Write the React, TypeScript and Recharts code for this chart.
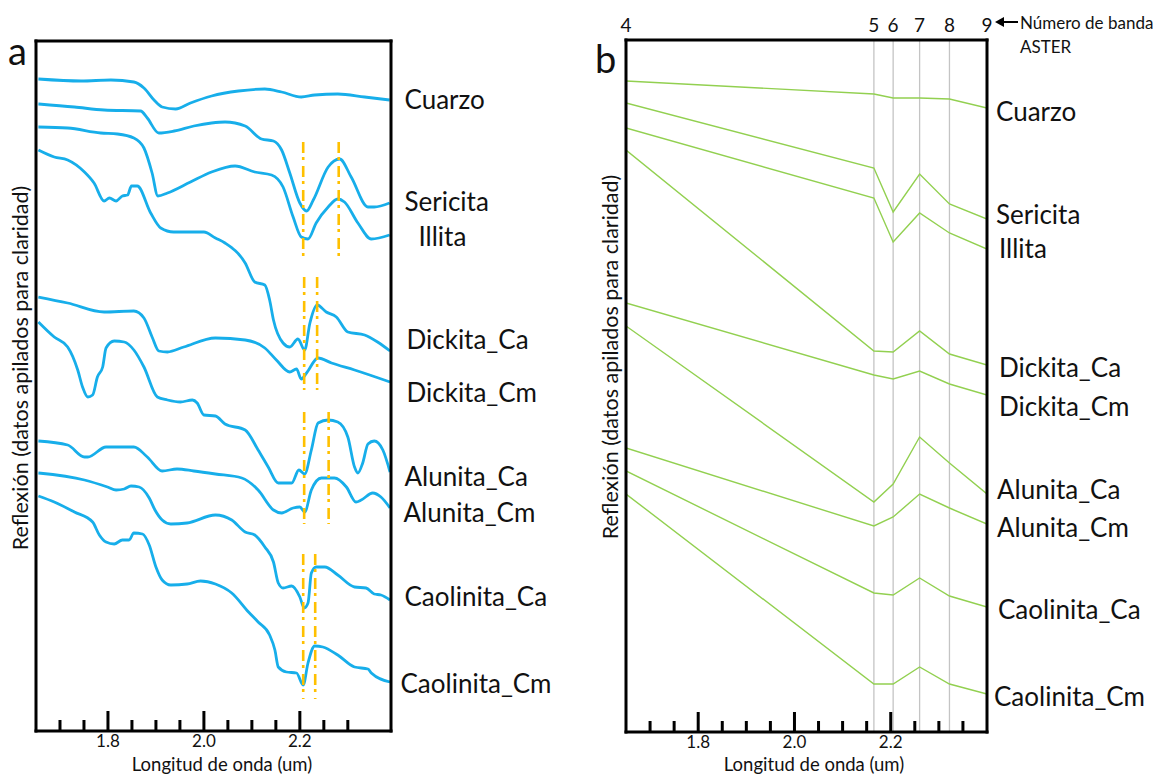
import React from 'react';
import { LineChart, Line, XAxis, YAxis, ReferenceLine } from 'recharts';

const FONT = "Lato, 'Open Sans', sans-serif";
const INK = '#111111';
const BLUE = '#17AEEA';
const GREEN = '#92D050';
const GOLD = '#FFC000';
const BAND_GREY = '#C4C4C4';

// ---------- Panel a: laboratory spectra, [wavelength (um), stacked reflectance] ----------
const cuarzoA: [number, number][] = [[1.655,65.2],[1.744,65.0],[1.806,65.1],[1.854,64.9],[1.875,64.3],[1.896,63.1],[1.913,62.4],[1.941,62.2],[1.972,62.8],[2.016,63.5],[2.072,64.0],[2.127,64.2],[2.162,63.9],[2.203,63.4],[2.231,63.6],[2.279,63.7],[2.335,63.4],[2.387,63.1]];
const sericitaA: [number, number][] = [[1.655,62.7],[1.730,62.4],[1.792,62.1],[1.868,62.0],[1.882,61.3],[1.906,59.8],[1.938,60.0],[1.979,60.5],[2.016,60.8],[2.044,60.9],[2.086,60.5],[2.120,59.2],[2.145,59.0],[2.162,58.1],[2.179,55.8],[2.200,52.8],[2.214,52.0],[2.228,53.1],[2.259,56.4],[2.283,57.2],[2.307,55.4],[2.342,52.4],[2.355,52.4],[2.387,52.8]];
const illitaA: [number, number][] = [[1.655,60.4],[1.716,60.3],[1.785,59.8],[1.820,59.7],[1.854,59.3],[1.875,58.3],[1.892,55.8],[1.904,53.5],[1.924,53.8],[1.972,54.9],[2.016,55.9],[2.065,56.5],[2.106,55.9],[2.141,55.6],[2.165,54.4],[2.186,51.4],[2.203,49.4],[2.217,49.2],[2.234,50.8],[2.259,52.4],[2.279,53.2],[2.293,52.9],[2.321,50.8],[2.349,49.2],[2.387,49.6]];
const dickitaCaA: [number, number][] = [[1.655,58.1],[1.688,57.4],[1.716,57.1],[1.751,55.9],[1.771,54.8],[1.792,53.0],[1.803,53.3],[1.817,53.0],[1.830,53.5],[1.841,53.6],[1.849,54.5],[1.861,54.5],[1.889,51.8],[1.910,50.3],[1.937,49.9],[2.000,49.9],[2.024,49.3],[2.044,48.8],[2.086,46.8],[2.106,44.9],[2.127,44.6],[2.137,43.1],[2.145,41.1],[2.165,38.8],[2.179,38.4],[2.196,39.2],[2.210,38.1],[2.221,40.8],[2.236,42.6],[2.255,41.9],[2.276,41.4],[2.300,39.9],[2.335,39.6],[2.362,38.9],[2.388,38.0]];
const dickitaCmA: [number, number][] = [[1.655,43.4],[1.716,42.8],[1.792,41.9],[1.854,42.0],[1.875,41.3],[1.892,39.4],[1.906,38.0],[1.924,37.9],[1.958,38.4],[2.024,39.3],[2.086,39.1],[2.127,38.3],[2.151,37.1],[2.179,35.9],[2.193,36.2],[2.203,35.2],[2.214,35.8],[2.238,37.3],[2.266,36.8],[2.314,36.1],[2.388,34.9]];
const alunitaCaA: [number, number][] = [[1.655,40.9],[1.688,39.4],[1.716,38.4],[1.737,36.1],[1.747,34.4],[1.758,33.4],[1.768,33.6],[1.778,35.4],[1.789,36.4],[1.796,38.3],[1.813,39.0],[1.834,38.9],[1.854,38.1],[1.875,36.4],[1.903,33.4],[1.924,33.1],[1.951,32.9],[1.976,33.1],[1.986,32.8],[2.000,31.6],[2.024,31.5],[2.044,30.7],[2.086,30.1],[2.113,28.1],[2.134,26.4],[2.155,24.8],[2.183,24.8],[2.198,26.1],[2.210,25.7],[2.224,28.1],[2.238,30.8],[2.259,31.1],[2.279,30.9],[2.300,29.4],[2.314,26.4],[2.321,25.8],[2.331,26.8],[2.342,28.7],[2.355,29.0],[2.373,28.1],[2.388,25.9]];
const alunitaCmA: [number, number][] = [[1.655,29.0],[1.716,28.6],[1.751,27.4],[1.758,27.4],[1.796,28.4],[1.854,28.4],[1.882,27.4],[1.913,26.0],[1.944,26.2],[1.979,26.0],[2.024,25.7],[2.079,25.3],[2.113,24.1],[2.145,22.1],[2.162,21.8],[2.186,22.3],[2.200,22.4],[2.210,21.9],[2.224,24.1],[2.245,25.3],[2.272,25.3],[2.297,24.4],[2.317,22.9],[2.328,23.1],[2.352,23.8],[2.369,23.4],[2.388,22.3]];
const caolinitaCaA: [number, number][] = [[1.655,25.8],[1.751,25.1],[1.799,24.4],[1.817,24.1],[1.834,24.2],[1.848,24.5],[1.865,24.4],[1.886,23.3],[1.898,22.1],[1.913,21.1],[1.931,20.7],[1.965,20.8],[2.024,21.6],[2.058,21.1],[2.086,19.9],[2.106,19.6],[2.127,18.4],[2.145,16.9],[2.155,14.8],[2.165,14.3],[2.183,14.5],[2.200,13.4],[2.209,12.3],[2.217,12.8],[2.224,15.8],[2.234,16.4],[2.252,16.4],[2.279,15.6],[2.314,14.4],[2.338,14.3],[2.355,13.7],[2.369,13.6],[2.388,13.1]];
const caolinitaCmA: [number, number][] = [[1.655,23.5],[1.688,22.9],[1.730,21.9],[1.768,20.9],[1.782,19.6],[1.796,18.9],[1.813,18.7],[1.830,19.1],[1.844,19.1],[1.854,19.8],[1.872,19.7],[1.886,18.6],[1.900,16.4],[1.913,15.1],[1.931,14.6],[1.965,14.7],[1.993,15.0],[2.024,14.7],[2.058,13.8],[2.093,11.9],[2.113,10.9],[2.137,9.6],[2.148,8.1],[2.155,6.4],[2.172,5.9],[2.193,5.8],[2.207,4.6],[2.217,6.8],[2.231,8.5],[2.248,8.4],[2.279,7.6],[2.314,6.4],[2.342,6.2],[2.349,5.8],[2.388,4.9]];

// absorption-feature markers: [wavelength, top, bottom]
const featureMarksA: [number, number, number][] = [
  [2.207, 58.9, 47.5], [2.281, 58.9, 47.5],
  [2.209, 45.4, 34.1], [2.236, 45.4, 34.1],
  [2.209, 31.9, 20.7], [2.260, 31.9, 20.7],
  [2.207, 17.7, 3.2], [2.232, 17.7, 3.2],
];

// ---------- Panel b: spectra resampled to ASTER SWIR bands ----------
const asterBands = ['4', '5', '6', '7', '8', '9'];
const asterCenters = [1.65, 2.165, 2.205, 2.26, 2.322, 2.4];
const cuarzoB = [65.1, 63.8, 63.4, 63.4, 63.3, 62.4];
const sericitaB = [62.9, 56.4, 52.0, 55.8, 52.8, 51.3];
const illitaB = [60.4, 53.4, 49.0, 51.9, 49.9, 48.3];
const dickitaCaB = [58.2, 38.1, 38.0, 40.1, 37.8, 36.7];
const dickitaCmB = [42.9, 35.7, 35.3, 36.1, 34.8, 33.7];
const alunitaCaB = [40.6, 23.0, 24.8, 29.5, 26.9, 23.8];
const alunitaCmB = [28.4, 20.6, 21.5, 23.8, 22.4, 20.8];
const caolinitaCaB = [26.1, 13.9, 13.7, 15.4, 13.6, 12.5];
const caolinitaCmB = [23.8, 4.8, 4.8, 6.5, 4.8, 3.8];

const mineralNames = ['Cuarzo', 'Sericita', 'Illita', 'Dickita_Ca', 'Dickita_Cm', 'Alunita_Ca', 'Alunita_Cm', 'Caolinita_Ca', 'Caolinita_Cm'];
const spectraA = [cuarzoA, sericitaA, illitaA, dickitaCaA, dickitaCmA, alunitaCaA, alunitaCmA, caolinitaCaA, caolinitaCmA];
const spectraB = [cuarzoB, sericitaB, illitaB, dickitaCaB, dickitaCmB, alunitaCaB, alunitaCmB, caolinitaCaB, caolinitaCmB];
const labelLevelsA = [63.1, 52.9, 49.4, 39.1, 33.8, 25.4, 21.8, 13.4, 4.7];
const labelLevelsB = [62.0, 51.7, 48.3, 36.4, 32.5, 24.2, 20.4, 12.2, 3.5];

const ticksA = [1.7, 1.75, 1.8, 1.85, 1.9, 1.95, 2.0, 2.05, 2.1, 2.15, 2.2, 2.25, 2.3];
const ticksB = [1.7, 1.75, 1.8, 1.85, 1.9, 1.95, 2.0, 2.05, 2.1, 2.15, 2.2, 2.25, 2.3, 2.35];
const majorTicks = [1.8, 2.0, 2.2];

// layout (not data)
const labelShiftA = [13.5, 13.5, 27.5, 15.5, 15.5, 13.5, 12.5, 13.5, 9.5];
const labelShiftB = [9, 9, 12, 12, 12, 10, 10, 11, 7];
const FRAME = { stroke: '#000', strokeWidth: 3, strokeLinecap: 'square' as const };

const toPoints = (arr: [number, number][]) => arr.map(([w, v]) => ({ w, v }));
const toBandPoints = (vals: number[]) => vals.map((v, i) => ({ w: asterCenters[i], v }));

const BottomTick = (props: any) => {
  const { x, y, payload } = props;
  const val = payload.value as number;
  const major = majorTicks.some((m) => Math.abs(m - val) < 1e-6);
  return (
    <g>
      <line x1={x} x2={x} y1={y} y2={y - (major ? 20 : 11)} stroke="#000" strokeWidth={3} />
      {major && (
        <text x={x} y={y + 16} textAnchor="middle" fontSize={17} fontFamily={FONT} fill={INK}>
          {val.toFixed(1)}
        </text>
      )}
    </g>
  );
};

const MineralTick = (props: any) => {
  const { x, y, payload, levels, shifts } = props;
  const i = levels.findIndex((l: number) => Math.abs(l - payload.value) < 1e-6);
  if (i < 0) return null;
  return (
    <text x={x + shifts[i]} y={y} dy="0.36em" fontSize={26} fontFamily={FONT} fill={INK}>
      {mineralNames[i]}
    </text>
  );
};

const BandTick = (props: any) => {
  const { x, y, payload } = props;
  const i = asterCenters.findIndex((c) => Math.abs(c - payload.value) < 1e-6);
  if (i < 0) return null;
  return (
    <text x={x} y={y - 8} textAnchor="middle" fontSize={19} fontFamily={FONT} fill={INK}>
      {asterBands[i]}
    </text>
  );
};

const SideDecor = ({ letter, letterX, letterY, titleX, titleY }: any) => (
  <g>
    <text x={letterX} y={letterY} fontSize={38} fontFamily={FONT} fill={INK}>{letter}</text>
    <text x={titleX} y={titleY} transform={`rotate(-90 ${titleX} ${titleY})`} textAnchor="middle" fontSize={21.5} fontFamily={FONT} fill={INK}>
      Reflexión (datos apilados para claridad)
    </text>
  </g>
);

const XTitle = ({ cx, y }: any) => (
  <text x={cx} y={y} textAnchor="middle" fontSize={18.5} fontFamily={FONT} fill={INK}>Longitud de onda (um)</text>
);

const BandCaption = () => (
  <g fontFamily={FONT} fill={INK}>
    <line x1={412} x2={428} y1={22} y2={22} stroke="#000" strokeWidth={2} />
    <polygon points="405,22 414,17 414,27" fill="#000" />
    <text x={430} y={29} fontSize={17}>Número de banda</text>
    <text x={430} y={53} fontSize={17}>ASTER</text>
  </g>
);

const PanelA = () => (
  <LineChart width={590} height={775} margin={{ top: 0, right: 0, bottom: 0, left: 0 }}>
    <XAxis xAxisId="main" type="number" dataKey="w" domain={[1.65, 2.39]} allowDataOverflow ticks={ticksA} interval={0}
      height={44} tickLine={false} tickSize={0} tickMargin={0} axisLine={FRAME}
      tick={(p: any) => <BottomTick {...p} />}
      label={() => <XTitle cx={222} y={771} />} />
    <XAxis xAxisId="top" orientation="top" type="number" dataKey="w" domain={[1.65, 2.39]} allowDataOverflow
      height={41} tick={false} tickLine={false} axisLine={FRAME} />
    <YAxis yAxisId="main" type="number" domain={[0, 69]} allowDataOverflow width={36} tick={false} tickLine={false} axisLine={FRAME}
      label={() => <SideDecor letter="a" letterX={8} letterY={65} titleX={28} titleY={368} />} />
    <YAxis yAxisId="right" orientation="right" type="number" domain={[0, 69]} allowDataOverflow width={199}
      ticks={labelLevelsA} interval={0} tickLine={false} tickSize={0} tickMargin={0} axisLine={FRAME}
      tick={(p: any) => <MineralTick {...p} levels={labelLevelsA} shifts={labelShiftA} />} />
    {spectraA.map((s, i) => (
      <Line key={mineralNames[i]} xAxisId="main" yAxisId="main" data={toPoints(s)} dataKey="v" type="monotone"
        stroke={BLUE} strokeWidth={2.8} dot={false} activeDot={false} isAnimationActive={false} />
    ))}
    {featureMarksA.map(([w, top, bottom], i) => (
      <ReferenceLine key={`f${i}`} xAxisId="main" yAxisId="main" segment={[{ x: w, y: top }, { x: w, y: bottom }]}
        stroke={GOLD} strokeWidth={2.6} strokeDasharray="11 4 3 6" />
    ))}
  </LineChart>
);

const PanelB = () => (
  <LineChart width={574} height={775} margin={{ top: 0, right: 0, bottom: 0, left: 0 }}>
    <XAxis xAxisId="main" type="number" dataKey="w" domain={[1.65, 2.4]} allowDataOverflow ticks={ticksB} interval={0}
      height={43} tickLine={false} tickSize={0} tickMargin={0} axisLine={FRAME}
      tick={(p: any) => <BottomTick {...p} />}
      label={() => <XTitle cx={224} y={771} />} />
    <XAxis xAxisId="top" orientation="top" type="number" dataKey="w" domain={[1.65, 2.4]} allowDataOverflow
      ticks={asterCenters} interval={0} height={40} tickLine={false} tickSize={0} tickMargin={0} axisLine={FRAME}
      tick={(p: any) => <BandTick {...p} />}
      label={() => <BandCaption />} />
    <YAxis yAxisId="main" type="number" domain={[0, 69.2]} allowDataOverflow width={36} tick={false} tickLine={false} axisLine={FRAME}
      label={() => <SideDecor letter="b" letterX={5} letterY={73} titleX={27.5} titleY={357} />} />
    <YAxis yAxisId="right" orientation="right" type="number" domain={[0, 69.2]} allowDataOverflow width={177}
      ticks={labelLevelsB} interval={0} tickLine={false} tickSize={0} tickMargin={0} axisLine={FRAME}
      tick={(p: any) => <MineralTick {...p} levels={labelLevelsB} shifts={labelShiftB} />} />
    {asterCenters.slice(1, 5).map((c) => (
      <ReferenceLine key={`band${c}`} xAxisId="main" yAxisId="main" x={c} stroke={BAND_GREY} strokeWidth={1.3} />
    ))}
    {spectraB.map((s, i) => (
      <Line key={mineralNames[i]} xAxisId="main" yAxisId="main" data={toBandPoints(s)} dataKey="v" type="linear"
        stroke={GREEN} strokeWidth={1.4} dot={false} activeDot={false} isAnimationActive={false} />
    ))}
  </LineChart>
);

export default function App() {
  return (
    <div style={{ position: 'absolute', left: 0, top: 0, width: 1164, height: 775, background: '#fff' }}>
      <div style={{ position: 'absolute', left: 0, top: 0 }}>
        <PanelA />
      </div>
      <div style={{ position: 'absolute', left: 590, top: 0 }}>
        <PanelB />
      </div>
    </div>
  );
}
